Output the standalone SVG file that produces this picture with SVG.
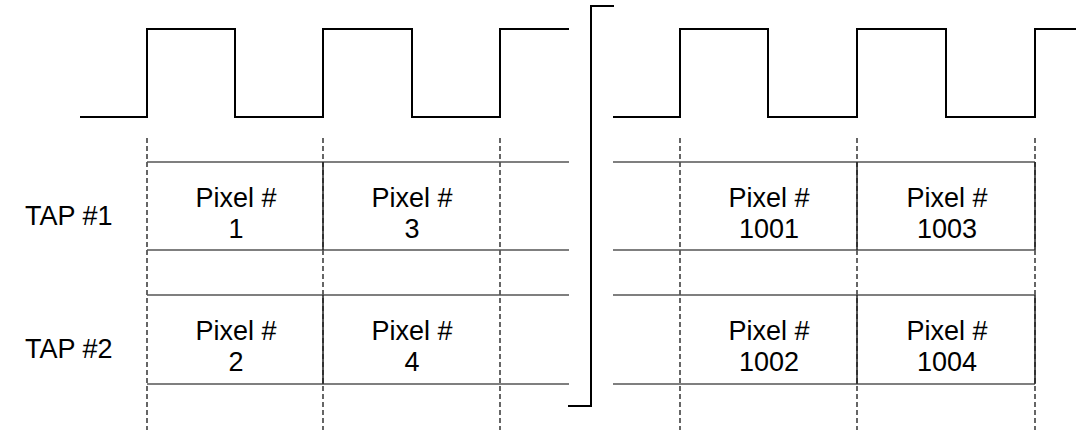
<svg xmlns="http://www.w3.org/2000/svg" width="1076" height="430" viewBox="0 0 1076 430">
<style>
.sig{fill:none;stroke:#000;stroke-width:2}
.grid{fill:none;stroke:#555;stroke-width:1.5}
.cell{stroke:#222;stroke-width:1.5}
.dash{stroke:#000;stroke-width:1.2;stroke-dasharray:5,3}
.brk{fill:none;stroke:#000;stroke-width:2}
text{font-family:"Liberation Sans",Arial,sans-serif;font-size:27px;fill:#000}
.c{text-anchor:middle}
</style>
<rect width="1076" height="430" fill="#fff"/>
<g id="clock">
<path class="sig" d="M80,117 H147 V29 H235 V117 H323 V29 H412 V117 H500 V29 H569"/>
<path class="sig" d="M613,117 H680 V29 H768 V117 H857 V29 H946 V117 H1035 V29 H1076"/>
</g>
<g id="break">
<path class="brk" d="M614,6 H591 V406 H568"/>
</g>
<g id="connectors">
<line class="dash" x1="147" y1="138" x2="147" y2="430"/>
<line class="dash" x1="323" y1="138" x2="323" y2="430"/>
<line class="dash" x1="500" y1="138" x2="500" y2="430"/>
<line class="dash" x1="680" y1="138" x2="680" y2="430"/>
<line class="dash" x1="857" y1="138" x2="857" y2="430"/>
<line class="dash" x1="1035" y1="138" x2="1035" y2="430"/>
</g>
<g id="rows">
<path class="grid" d="M147,162 H569 M147,250 H569 M147,295 H569 M147,384 H569"/>
<path class="grid" d="M613,162 H1035 M613,250 H1035 M613,295 H1035 M613,384 H1035"/>
<path class="cell" d="M323,162 V250 M323,295 V384 M857,162 V250 M857,295 V384 M1035,162 V250 M1035,295 V384"/>
</g>
<g id="tap1"><text x="25" y="225">TAP #1</text></g>
<g id="tap2"><text x="25" y="358">TAP #2</text></g>
<g id="p1"><text class="c" x="236" y="207">Pixel #</text><text class="c" x="236" y="238">1</text></g>
<g id="p3"><text class="c" x="412" y="207">Pixel #</text><text class="c" x="412" y="238">3</text></g>
<g id="p1001"><text class="c" x="769" y="207">Pixel #</text><text class="c" x="769" y="238">1001</text></g>
<g id="p1003"><text class="c" x="947" y="207">Pixel #</text><text class="c" x="947" y="238">1003</text></g>
<g id="p2"><text class="c" x="236" y="340">Pixel #</text><text class="c" x="236" y="371">2</text></g>
<g id="p4"><text class="c" x="412" y="340">Pixel #</text><text class="c" x="412" y="371">4</text></g>
<g id="p1002"><text class="c" x="769" y="340">Pixel #</text><text class="c" x="769" y="371">1002</text></g>
<g id="p1004"><text class="c" x="947" y="340">Pixel #</text><text class="c" x="947" y="371">1004</text></g>
</svg>
